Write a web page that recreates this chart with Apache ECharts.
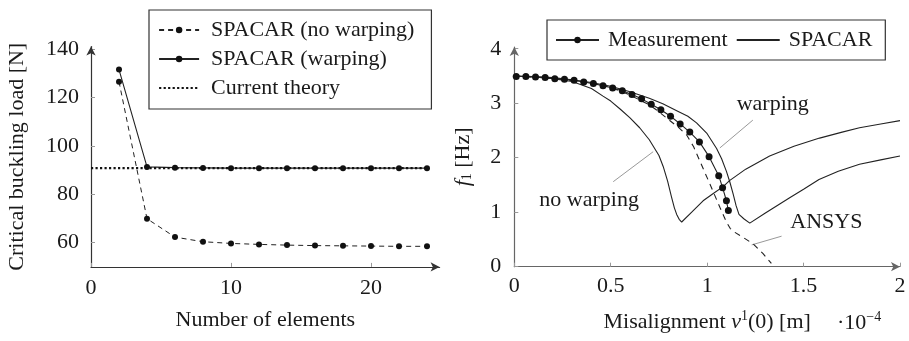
<!DOCTYPE html>
<html>
<head>
<meta charset="utf-8">
<script src="https://cdn.jsdelivr.net/npm/echarts@6/dist/echarts.min.js"></script>
<style>html,body{margin:0;padding:0;background:#fff}#c{width:909px;height:341px}</style>
</head>
<body>
<div id="c"></div>
<script>
// ---------- Left chart data ----------
const nElements = [2, 4, 6, 8, 10, 12, 14, 16, 18, 20, 22, 24];
const spacarNoWarping = [126.5, 69.9, 62.3, 60.4, 59.7, 59.3, 59.0, 58.8, 58.7, 58.6, 58.5, 58.5];
const spacarWarping = [131.5, 91.3, 91.0, 90.9, 90.8, 90.8, 90.8, 90.8, 90.8, 90.8, 90.8, 90.8];
const theoryX = [0, 24];
const theoryY = [90.8, 90.8];
const leftXTicks = [0, 10, 20];
const leftYTicks = [60, 80, 100, 120, 140];

// ---------- Right chart data ----------
const measX = [0.01,0.06,0.11,0.16,0.21,0.26,0.31,0.36,0.41,0.46,0.51,0.56,0.61,0.66,0.71,0.76,0.81,0.86,0.91,0.96,1.01,1.06,1.08,1.10,1.11];
const measY = [3.49,3.49,3.48,3.47,3.45,3.44,3.42,3.39,3.36,3.32,3.28,3.23,3.16,3.08,2.98,2.88,2.76,2.62,2.47,2.29,2.02,1.67,1.45,1.21,1.03];

const noWarpX = [0,0.1,0.2,0.3,0.4,0.46,0.5,0.55,0.6,0.65,0.7,0.75,0.772,0.795,0.815,0.83,0.842,0.855,0.868,0.92,0.979,1.03,1.083,1.116,1.2,1.324,1.45,1.583,1.7,1.79,1.9,2.0];
const noWarpY = [3.5,3.48,3.45,3.40,3.27,3.13,3.04,2.89,2.73,2.55,2.33,2.04,1.84,1.57,1.28,1.08,0.96,0.87,0.82,1.0,1.21,1.34,1.47,1.58,1.79,2.03,2.21,2.36,2.47,2.55,2.62,2.68];

const warpX = [0,0.1,0.2,0.3,0.4,0.5,0.6,0.7,0.77,0.85,0.9,0.945,1.0,1.049,1.075,1.10,1.118,1.135,1.15,1.165,1.19,1.221,1.3,1.43,1.5,1.58,1.68,1.79,1.9,2.0];
const warpY = [3.5,3.49,3.47,3.43,3.38,3.31,3.21,3.09,2.99,2.85,2.76,2.64,2.44,2.17,1.98,1.75,1.55,1.33,1.12,0.96,0.88,0.80,0.98,1.27,1.42,1.60,1.75,1.88,1.96,2.03];

const ansysX = [0,0.2,0.4,0.5,0.6,0.7,0.74,0.8,0.85,0.893,0.93,0.962,1.014,1.066,1.10,1.12,1.144,1.19,1.238,1.29,1.333];
const ansysY = [3.5,3.46,3.37,3.29,3.15,2.97,2.87,2.70,2.56,2.42,2.20,1.94,1.52,1.09,0.82,0.70,0.63,0.53,0.42,0.24,0.06];

const rightXTicks = [0, 0.5, 1, 1.5, 2];
const rightYTicks = [0, 1, 2, 3, 4];

// annotations (data coordinates of the right chart)
const annoLabels = ['warping', 'no warping', 'ANSYS'];
const annoCenters = [[1.34, 2.99], [0.388, 1.22], [1.618, 0.82]];
const annoPins = [[[1.237, 2.69], [1.066, 2.18]], [[0.513, 1.56], [0.72, 2.11]], [[1.386, 0.56], [1.231, 0.40]]];

const zip = (xs, ys) => xs.map((x, i) => [x, ys[i]]);
const FONT = 'Liberation Serif';
const TXT = '#1a1a1a';
const NOSYM = { color: 'rgba(0,0,0,0)', borderColor: 'rgba(0,0,0,0)', borderWidth: 0 };
const DOTTED = { color: '#111', width: 2.2, type: [2.2, 2.3] };

const chart = echarts.init(document.getElementById('c'), null, { renderer: 'canvas' });

function axis(color, gridIndex, min, max, ticks, margin, extra) {
  return Object.assign({
    type: 'value', gridIndex: gridIndex, min: min, max: max,
    splitLine: { show: false },
    axisLine: { show: true, symbol: ['none', 'arrow'], symbolSize: [7, 9], lineStyle: { color: color, width: 1.2 } },
    axisTick: { show: true, inside: true, length: 4, customValues: ticks, lineStyle: { color: '#999' } },
    axisLabel: { customValues: ticks, fontFamily: FONT, fontSize: 22, color: TXT, margin: margin }
  }, extra);
}

const option = {
  animation: false,
  backgroundColor: '#fff',
  textStyle: { fontFamily: FONT },
  grid: [
    { left: 91, top: 46.6, width: 348.6, height: 220.3 },
    { left: 514.3, top: 47.1, width: 385.7, height: 219.6 }
  ],
  xAxis: [
    axis('#333', 0, 0, 24.9, leftXTicks, 10, {
      name: 'Number of elements', nameLocation: 'middle', nameGap: 42,
      nameTextStyle: { fontFamily: FONT, fontSize: 22, color: TXT }
    }),
    axis('#666', 1, 0, 2, rightXTicks, 9, {
      name: '{n|Misalignment }{i|v}{sup|1}{n|(0) [m]}', nameLocation: 'middle', nameGap: 43,
      nameTextStyle: {
        fontFamily: FONT, fontSize: 22, color: TXT,
        rich: {
          n: { fontFamily: FONT, fontSize: 22, color: TXT, verticalAlign: 'bottom', lineHeight: 24 },
          i: { fontFamily: FONT, fontSize: 22, color: TXT, fontStyle: 'italic', verticalAlign: 'bottom', lineHeight: 24 },
          sup: { fontFamily: FONT, fontSize: 14, color: TXT, verticalAlign: 'top', lineHeight: 14 }
        }
      }
    })
  ],
  yAxis: [
    axis('#333', 0, 50, 141, leftYTicks, 12, {
      name: 'Critical buckling load [N]', nameLocation: 'middle', nameGap: 63, nameRotate: 90,
      nameTextStyle: { fontFamily: FONT, fontSize: 22, color: TXT }
    }),
    axis('#666', 1, 0, 4.03, rightYTicks, 13, {
      name: '{i|f}{sub|1}{n| [Hz]}', nameLocation: 'middle', nameGap: 40, nameRotate: 90,
      nameTextStyle: {
        fontFamily: FONT, fontSize: 22, color: TXT,
        rich: {
          n: { fontFamily: FONT, fontSize: 22, color: TXT, verticalAlign: 'top', lineHeight: 22, padding: [0, 0, 3, 0] },
          i: { fontFamily: FONT, fontSize: 22, color: TXT, fontStyle: 'italic', verticalAlign: 'top', lineHeight: 22, padding: [0, 0, 3, 0] },
          sub: { fontFamily: FONT, fontSize: 14, color: TXT, verticalAlign: 'bottom', lineHeight: 14 }
        }
      }
    })
  ],
  legend: [
    {
      data: ['SPACAR (no warping)', 'SPACAR (warping)', { name: 'Current theory', itemStyle: NOSYM, lineStyle: DOTTED }],
      orient: 'vertical', left: 149, top: 10,
      padding: [9, 17, 10, 9], itemGap: 7, itemWidth: 40, itemHeight: 8,
      borderColor: '#333', borderWidth: 1.2, borderRadius: 0,
      textStyle: { fontFamily: FONT, fontSize: 22, color: TXT, lineHeight: 22, padding: [0, 0, 0, 7] }
    },
    {
      data: ['Measurement', { name: 'SPACAR', itemStyle: NOSYM }],
      orient: 'horizontal', left: 547, top: 20,
      padding: [9, 13, 9, 8], itemGap: 8, itemWidth: 43, itemHeight: 8,
      borderColor: '#333', borderWidth: 1.2, borderRadius: 0,
      textStyle: { fontFamily: FONT, fontSize: 22, color: TXT, lineHeight: 22, padding: [0, 0, 0, 4] }
    }
  ],
  series: [
    {
      name: 'SPACAR (no warping)', type: 'line', xAxisIndex: 0, yAxisIndex: 0,
      data: zip(nElements, spacarNoWarping),
      symbol: 'circle', symbolSize: 6, color: '#111',
      lineStyle: { color: '#222', width: 1, type: [5, 4] }, itemStyle: { color: '#111' }
    },
    {
      name: 'SPACAR (warping)', type: 'line', xAxisIndex: 0, yAxisIndex: 0,
      data: zip(nElements, spacarWarping),
      symbol: 'circle', symbolSize: 6, color: '#111',
      lineStyle: { color: '#222', width: 1.1 }, itemStyle: { color: '#111' }
    },
    {
      name: 'Current theory', type: 'line', xAxisIndex: 0, yAxisIndex: 0,
      data: zip(theoryX, theoryY),
      symbol: 'none', color: '#111',
      lineStyle: DOTTED
    },
    {
      name: 'SPACAR', type: 'line', xAxisIndex: 1, yAxisIndex: 1,
      data: zip(noWarpX, noWarpY), symbol: 'none', color: '#111',
      lineStyle: { color: '#222', width: 1.1 }, z: 3
    },
    {
      name: 'SPACAR', type: 'line', xAxisIndex: 1, yAxisIndex: 1,
      data: zip(warpX, warpY), symbol: 'none', color: '#111',
      lineStyle: { color: '#222', width: 1.1 }, z: 3
    },
    {
      name: 'ANSYS', type: 'line', xAxisIndex: 1, yAxisIndex: 1,
      data: zip(ansysX, ansysY), symbol: 'none', color: '#111',
      lineStyle: { color: '#222', width: 1.1, type: [6, 5] }, z: 3
    },
    {
      name: 'Measurement', type: 'line', xAxisIndex: 1, yAxisIndex: 1,
      data: zip(measX, measY), symbol: 'circle', symbolSize: 7, color: '#111',
      lineStyle: { color: '#222', width: 1.1 }, itemStyle: { color: '#111' }, z: 4
    }
  ]
};
chart.setOption(option);

// annotation texts and pins, positioned through the right chart's axes
const finder = { xAxisIndex: 1, yAxisIndex: 1 };
const graphics = [];
annoLabels.forEach((t, i) => {
  const p = chart.convertToPixel(finder, annoCenters[i]);
  graphics.push({ type: 'text', x: p[0], y: p[1], style: { text: t, fontFamily: FONT, fontSize: 22, fill: TXT, align: 'center', verticalAlign: 'middle' } });
  const a = chart.convertToPixel(finder, annoPins[i][0]);
  const b = chart.convertToPixel(finder, annoPins[i][1]);
  graphics.push({ type: 'line', shape: { x1: a[0], y1: a[1], x2: b[0], y2: b[1] }, style: { stroke: '#999', lineWidth: 1 }, z: 2 });
});
// axis scale factor label of the right chart
const sp = chart.convertToPixel(finder, [2, 0]);
graphics.push({
  type: 'text', x: sp[0] - 63, y: sp[1] + 56,
  style: {
    text: '{n|·10}{sup|−4}', fontFamily: FONT, fontSize: 22, fill: TXT, verticalAlign: 'middle',
    rich: {
      n: { fontFamily: FONT, fontSize: 22, fill: TXT, verticalAlign: 'bottom', lineHeight: 24 },
      sup: { fontFamily: FONT, fontSize: 14, fill: TXT, verticalAlign: 'top', lineHeight: 14 }
    }
  }
});
chart.setOption({ graphic: graphics });
</script>
</body>
</html>
